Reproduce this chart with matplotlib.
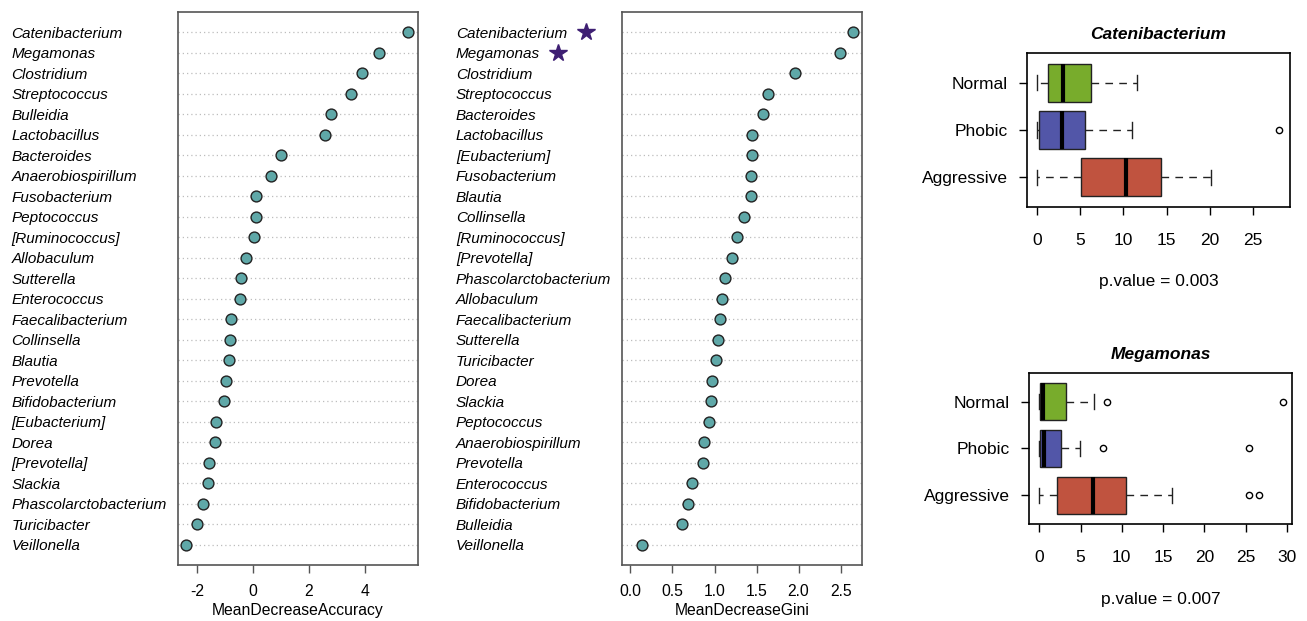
import matplotlib

matplotlib.use("Agg")
import matplotlib.pyplot as plt
from matplotlib.transforms import blended_transform_factory

plt.rcParams["font.family"] = ["Liberation Sans", "DejaVu Sans"]

# ---- variable importance (top to bottom as drawn) ----
acc_names = [
    "Catenibacterium", "Megamonas", "Clostridium", "Streptococcus", "Bulleidia",
    "Lactobacillus", "Bacteroides", "Anaerobiospirillum", "Fusobacterium",
    "Peptococcus", "[Ruminococcus]", "Allobaculum", "Sutterella", "Enterococcus",
    "Faecalibacterium", "Collinsella", "Blautia", "Prevotella", "Bifidobacterium",
    "[Eubacterium]", "Dorea", "[Prevotella]", "Slackia", "Phascolarctobacterium",
    "Turicibacter", "Veillonella",
]
acc_values = [
    5.56, 4.49, 3.89, 3.49, 2.79, 2.59, 1.01, 0.65, 0.12, 0.11, 0.05, -0.23,
    -0.43, -0.45, -0.79, -0.83, -0.86, -0.94, -1.03, -1.30, -1.34, -1.56,
    -1.60, -1.78, -1.99, -2.37,
]

gini_names = [
    "Catenibacterium", "Megamonas", "Clostridium", "Streptococcus", "Bacteroides",
    "Lactobacillus", "[Eubacterium]", "Fusobacterium", "Blautia", "Collinsella",
    "[Ruminococcus]", "[Prevotella]", "Phascolarctobacterium", "Allobaculum",
    "Faecalibacterium", "Sutterella", "Turicibacter", "Dorea", "Slackia",
    "Peptococcus", "Anaerobiospirillum", "Prevotella", "Enterococcus",
    "Bifidobacterium", "Bulleidia", "Veillonella",
]
gini_values = [
    2.65, 2.49, 1.96, 1.63, 1.58, 1.44, 1.44, 1.43, 1.43, 1.35, 1.27, 1.21,
    1.13, 1.09, 1.06, 1.04, 1.02, 0.97, 0.96, 0.94, 0.88, 0.86, 0.73, 0.69,
    0.61, 0.14,
]
starred = ["Catenibacterium", "Megamonas"]

# ---- boxplot summaries ----
groups = ["Normal", "Phobic", "Aggressive"]
group_colors = ["#78ac2c", "#5256a8", "#c0533f"]

cat_whislo = [0.0, 0.0, 0.0]
cat_q1 = [1.2, 0.23, 5.07]
cat_med = [2.95, 2.83, 10.33]
cat_q3 = [6.27, 5.5, 14.39]
cat_whishi = [11.54, 10.95, 20.12]
cat_fliers = [[], [28.1], []]

meg_whislo = [0.0, 0.0, 0.0]
meg_q1 = [0.08, 0.08, 2.15]
meg_med = [0.4, 0.55, 6.48]
meg_q3 = [3.28, 2.6, 10.48]
meg_whishi = [6.6, 4.94, 16.06]
meg_fliers = [[8.2, 29.5], [7.77, 25.4], [25.4, 26.6]]

W, H = 1307, 621
fig = plt.figure(figsize=(W / 100, H / 100), dpi=100)


def box_px(left, top, right, bottom):
    return [left / W, 1 - bottom / H, (right - left) / W, (bottom - top) / H]


frame = "#555555"


def dot_panel(rect, names, values, xlim, xticks, xlabel, fmt):
    ax = fig.add_axes(rect)
    n = len(names)
    ys = [n - i for i in range(n)]
    for y in ys:
        ax.axhline(y, color="#bdbdbd", lw=0.9, ls=(0, (1, 2.4)), zorder=1)
    ax.plot(values, ys, "o", ms=7.8, mfc="#5fa8a8", mec="#222222", mew=1.0,
            ls="none", zorder=3)
    ax.set_xlim(*xlim)
    ax.set_ylim(0, n + 1)
    ax.set_yticks(ys)
    ax.set_yticklabels(names, fontsize=11, style="italic", ha="left")
    ax.tick_params(axis="y", length=0, pad=119.5)
    ax.set_xticks(xticks)
    ax.set_xticklabels([fmt.format(t) for t in xticks], fontsize=11.3)
    ax.tick_params(axis="x", length=5.5, width=1.0, color=frame, pad=8.5)
    ax.set_xlabel(xlabel, fontsize=11.3, labelpad=2.5)
    for s in ax.spines.values():
        s.set_color(frame)
        s.set_linewidth(1.2)
    return ax


ax1 = dot_panel(box_px(177.5, 12, 417.7, 565), acc_names, acc_values,
                (-2.69, 5.89), [-2, 0, 2, 4], "MeanDecreaseAccuracy", "{:g}")
ax2 = dot_panel(box_px(622, 12, 861.7, 565), gini_names, gini_values,
                (-0.10, 2.75), [0.0, 0.5, 1.0, 1.5, 2.0, 2.5],
                "MeanDecreaseGini", "{:.1f}")

# stars next to the two selected genera
star_tr = blended_transform_factory(fig.transFigure, ax2.transData)
n2 = len(gini_names)
star_x = {"Catenibacterium": 586 / W, "Megamonas": 558.3 / W}
for name in starred:
    y = n2 - gini_names.index(name)
    ax2.plot([star_x[name]], [y], marker="*", ms=13, color="#3e1f73",
             mec="#3e1f73", transform=star_tr, clip_on=False)


def box_panel(rect, title, whislo, q1, med, q3, whishi, fliers, xlim, xticks, pval):
    ax = fig.add_axes(rect)
    stats = []
    for i in range(len(groups)):
        stats.append(dict(whislo=whislo[i], q1=q1[i], med=med[i], q3=q3[i],
                          whishi=whishi[i], fliers=fliers[i], label=groups[i]))
    positions = [3, 2, 1]
    bp = ax.bxp(stats, positions=positions, widths=0.8, orientation="horizontal",
                patch_artist=True, capwidths=0.32,
                boxprops=dict(edgecolor="#222222", linewidth=1.0),
                medianprops=dict(color="black", linewidth=3.0, solid_capstyle="butt"),
                whiskerprops=dict(color="#222222", linewidth=1.0,
                                  linestyle=(0, (5.5, 4.5))),
                capprops=dict(color="#222222", linewidth=1.0),
                flierprops=dict(marker="o", ms=4.5, mfc="none", mec="black", mew=1.0))
    for patch, c in zip(bp["boxes"], group_colors):
        patch.set_facecolor(c)
    ax.set_xlim(*xlim)
    ax.set_ylim(0.38, 3.62)
    ax.set_yticks(positions)
    ax.set_yticklabels(groups, fontsize=12.5)
    ax.set_xticks(xticks)
    ax.set_xticklabels([str(t) for t in xticks], fontsize=12.5)
    ax.tick_params(length=5.8, width=1.0)
    ax.tick_params(axis="y", pad=8)
    ax.tick_params(axis="x", pad=13)
    ax.set_title(title, fontsize=12.5, fontweight="bold", style="italic", pad=10)
    ax.set_xlabel(pval, fontsize=12.5, labelpad=19)
    for s in ax.spines.values():
        s.set_linewidth(1.2)
    return ax


box_panel(box_px(1026.7, 53.3, 1290, 206.7), "Catenibacterium",
          cat_whislo, cat_q1, cat_med, cat_q3, cat_whishi, cat_fliers,
          (-1.23, 29.33), [0, 5, 10, 15, 20, 25], "p.value = 0.003")
box_panel(box_px(1029.3, 372.7, 1291.7, 524.3), "Megamonas",
          meg_whislo, meg_q1, meg_med, meg_q3, meg_whishi, meg_fliers,
          (-1.21, 30.6), [0, 5, 10, 15, 20, 25, 30], "p.value = 0.007")

fig.savefig("out.png", dpi=100)
